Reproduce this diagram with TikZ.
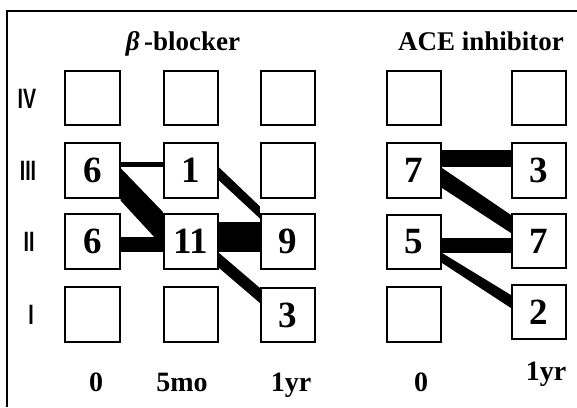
\documentclass[tikz,border=0pt]{standalone}
\usepackage{fontspec}
\setmainfont{Liberation Serif}
\setsansfont{Liberation Sans}
\usetikzlibrary{calc}
\pgfdeclarelayer{bands}
\pgfsetlayers{bands,main}
\begin{document}
\begin{tikzpicture}[x=1pt,y=-1pt,
  cell/.style={draw,line width=1.6pt,fill=white,minimum size=54.5pt,inner sep=0pt,
    font=\fontsize{37}{37}\selectfont\bfseries},
  grade/.style={font=\sffamily\bfseries\fontsize{28}{28}\selectfont,xscale=0.7},
  heading/.style={font=\fontsize{27}{27}\selectfont\bfseries,anchor=base},
  timept/.style={font=\fontsize{28}{28}\selectfont\bfseries,anchor=base},
  band/.style={fill=black}]
\useasboundingbox (0,0) rectangle (577,407);
% frame
\draw[line width=1.4pt] (7,407) coordinate (fbot) -- (7,11) coordinate (fcorner) -- (577,11) coordinate (fright);

% headings
\node[heading] (hbeta) at (183,50) {\textit{β}\,-blocker};
\node[heading] (hace) at (481,50) {ACE inhibitor};

% grade labels
\node[grade] (gIV)  at (27,99)    {IV};
\node[grade] (gIII) at (28,171)   {III};
\node[grade] (gII)  at (29,242)   {II};
\node[grade] (gI)   at (31,315)   {I};

% beta-blocker grid (column, row)
\node[cell] (b14) at (92.5,98)    {};
\node[cell] (b13) at (92.5,170.5) {6};
\node[cell] (b12) at (92.5,241.5) {6};
\node[cell] (b11) at (92.5,314.5) {};
\node[cell] (b24) at (191,98)     {};
\node[cell] (b23) at (191,170.5)  {1};
\node[cell] (b22) at (191,241.5)  {11};
\node[cell] (b21) at (191,314.5)  {};
\node[cell] (b34) at (288,98)     {};
\node[cell] (b33) at (288,170.5)  {};
\node[cell] (b32) at (288,241.5)  {9};
\node[cell] (b31) at (288,315)    {3};

% ACE inhibitor grid
\node[cell] (a14) at (414,98)     {};
\node[cell] (a13) at (414,170.5)  {7};
\node[cell] (a12) at (414,242)    {5};
\node[cell] (a11) at (414,314.5)  {};
\node[cell] (a24) at (539,98)     {};
\node[cell] (a23) at (539,170.5)  {3};
\node[cell] (a22) at (539,241)    {7};
\node[cell] (a21) at (539,312)    {2};

% time points
\node[timept] (t1) at (96,391)  {0};
\node[timept] (t2) at (182,391) {5mo};
\node[timept] (t3) at (291,391) {1yr};
\node[timept] (t4) at (421,391) {0};
\node[timept] (t5) at (546,380) {1yr};

% transitions, band width follows the number of patients
\begin{pgfonlayer}{bands}
% beta-blocker
\fill[band] ($(b13.east)+(0,-8.8)$) -- ($(b23.west)+(0,-8.8)$) -- ($(b23.west)+(0,-3.2)$) -- ($(b13.east)+(0,-3.2)$) -- cycle;
\fill[band] ($(b13.east)+(0,-2.5)$) -- ($(b22.west)+(0,-29.5)$) -- ($(b22.west)+(0,5)$) -- ($(b13.east)+(0,30)$) -- cycle;
\fill[band] ($(b12.east)+(0,-4.8)$) -- ($(b22.west)+(0,-4.8)$) -- ($(b22.west)+(0,10.5)$) -- ($(b12.east)+(0,10.5)$) -- cycle;
\fill[band] ($(b23.east)+(0,-3)$) -- ($(b32.west)+(0,-35)$) -- ($(b32.west)+(0,-23)$) -- ($(b23.east)+(0,10)$) -- cycle;
\fill[band] ($(b22.east)+(0,-19.5)$) -- ($(b32.west)+(0,-19.5)$) -- ($(b32.west)+(0,10.5)$) -- ($(b22.east)+(0,10.5)$) -- cycle;
\fill[band] ($(b22.east)+(0,11.5)$) -- ($(b31.west)+(0,-27)$) -- ($(b31.west)+(0,-12)$) -- ($(b22.east)+(0,26.5)$) -- cycle;
% ACE inhibitor
\fill[band] ($(a13.east)+(0,-20.5)$) -- ($(a23.west)+(0,-20.5)$) -- ($(a23.west)+(0,-3.5)$) -- ($(a13.east)+(0,-3.5)$) -- cycle;
\fill[band] ($(a13.east)+(0,-2.5)$) -- ($(a22.west)+(0,-26)$) -- ($(a22.west)+(0,-8)$) -- ($(a13.east)+(0,17.5)$) -- cycle;
\fill[band] ($(a12.east)+(0,-4)$) -- ($(a22.west)+(0,-3)$) -- ($(a22.west)+(0,12)$) -- ($(a12.east)+(0,11)$) -- cycle;
\fill[band] ($(a12.east)+(0,11)$) -- ($(a21.west)+(0,-17)$) -- ($(a21.west)+(0,-4)$) -- ($(a12.east)+(0,21)$) -- cycle;
\end{pgfonlayer}
\end{tikzpicture}
\end{document}
